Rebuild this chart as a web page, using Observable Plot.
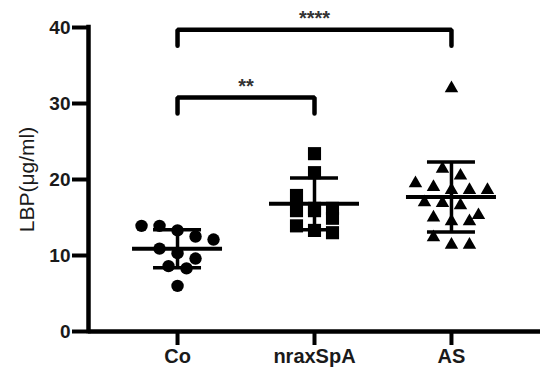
<!DOCTYPE html>
<html>
<head>
<meta charset="utf-8">
<script src="https://cdn.jsdelivr.net/npm/d3@7"></script>
<script src="https://cdn.jsdelivr.net/npm/@observablehq/plot@0.6"></script>
<style>
  html, body { margin: 0; padding: 0; background: #fff; }
  #chart { width: 542px; height: 370px; }
</style>
</head>
<body>
<div id="chart"></div>
<script>
// ---- data ----
const groups = ["Co", "nraxSpA", "AS"];
const coValues    = [13.9, 13.9, 13.3, 12.5, 12.1, 10.9, 10.3, 9.6, 8.6, 8.3, 6.0];
const nraxValues  = [23.4, 20.9, 17.9, 16.2, 16.2, 15.9, 15.9, 14.9, 13.9, 13.3, 13.0];
const asValues    = [32.0, 21.4, 20.5, 19.5, 19.0, 18.6, 18.6, 18.6, 17.0, 16.9, 16.6, 15.3, 15.0, 14.5, 14.5, 12.4, 11.4, 11.4];
const groupMeans  = [10.9, 16.8, 17.7];
const groupSDs    = [2.5, 3.4, 4.6];
const yTicks      = [0, 10, 20, 30, 40];
const compareFrom   = [0, 0];
const compareTo     = [2, 1];
const compareLevel  = [39.7, 30.8];
const compareLabels = ["****", "**"];
const yLabel = "LBP(\u03BCg/ml)";

// ---- layout ----
const W = 542, H = 370, mL = 88, mR = 2, mT = 27, mB = 39;
const xDomain = [-0.65, 2.65];
const pxPerUnit = (W - mL - mR) / (xDomain[1] - xDomain[0]);
const spacingPx = 18;      // horizontal spacing of symbols within a row
const rowSpan = 1.85;      // values within this span share a row
const font = "Liberation Sans, Arial, sans-serif";

// simple row-based scatter layout (like GraphPad Prism)
function layout(values, gi) {
  const sorted = values.slice().sort((a, b) => b - a);
  const rows = [];
  let cur = [];
  for (const v of sorted) {
    if (cur.length && cur[0] - v >= rowSpan) { rows.push(cur); cur = []; }
    cur.push(v);
  }
  if (cur.length) rows.push(cur);
  const out = [];
  for (const row of rows) {
    const n = row.length;
    row.forEach((v, k) => {
      const off = (k - (n - 1) / 2) * spacingPx / pxPerUnit;
      out.push({g: gi, x: gi + off, y: v});
    });
  }
  return out;
}
const pts = [coValues, nraxValues, asValues].map((vals, i) => layout(vals, i));

const stats = groups.map((g, i) => ({i, mean: groupMeans[i], lo: groupMeans[i] - groupSDs[i], hi: groupMeans[i] + groupSDs[i]}));
const meanHalf = 45 / pxPerUnit;
const capHalf = 24 / pxPerUnit;
const drop = 2.1;

const bracketPts = [];
compareFrom.forEach((f, k) => {
  const t = compareTo[k], L = compareLevel[k];
  bracketPts.push({k, x: f, y: L - drop}, {k, x: f, y: L}, {k, x: t, y: L}, {k, x: t, y: L - drop});
});
const bracketLabels = compareFrom.map((f, k) => ({x: (f + compareTo[k]) / 2, y: compareLevel[k], label: compareLabels[k]}));

const plot = Plot.plot({
  width: W, height: H,
  marginLeft: mL, marginRight: mR, marginTop: mT, marginBottom: mB,
  style: {fontFamily: font, background: "#fff", overflow: "visible"},
  x: {domain: xDomain, axis: null},
  y: {domain: [0, 40], axis: null},
  marks: [
    // axes
    Plot.axisY({ticks: yTicks, tickSize: 16, tickPadding: 2, strokeWidth: 4, fontSize: 19, fontWeight: "bold", fill: "#1a1a1a", label: null}),
    Plot.axisX({ticks: [0, 1, 2], tickFormat: i => groups[i], tickSize: 14, tickPadding: 3, strokeWidth: 4, fontSize: 20, fontWeight: "bold", fill: "#1a1a1a", label: null}),
    Plot.ruleX([xDomain[0]], {y1: 0, y2: 40, strokeWidth: 4.5, stroke: "#000", strokeLinecap: "square"}),
    Plot.ruleY([0], {strokeWidth: 4.5, stroke: "#000"}),
    Plot.text([yLabel], {frameAnchor: "left", rotate: -90, dx: -61, fontSize: 21, fill: "#1a1a1a", textAnchor: "middle"}),
    // points
    Plot.dot(pts[0], {x: "x", y: "y", symbol: "circle", r: 6.2, fill: "#000"}),
    Plot.dot(pts[1], {x: "x", y: "y", symbol: "square", r: 7.4, fill: "#000"}),
    Plot.dot(pts[2], {x: "x", y: "y", symbol: "triangle", r: 5, fill: "#000"}),
    // mean and SD
    Plot.ruleY(stats, {y: "mean", x1: d => d.i - meanHalf, x2: d => d.i + meanHalf, strokeWidth: 4, stroke: "#000"}),
    Plot.ruleX(stats, {x: "i", y1: "lo", y2: "hi", strokeWidth: 3.5, stroke: "#000"}),
    Plot.ruleY(stats, {y: "hi", x1: d => d.i - capHalf, x2: d => d.i + capHalf, strokeWidth: 3.5, stroke: "#000"}),
    Plot.ruleY(stats, {y: "lo", x1: d => d.i - capHalf, x2: d => d.i + capHalf, strokeWidth: 3.5, stroke: "#000"}),
    // significance brackets
    Plot.line(bracketPts, {x: "x", y: "y", z: "k", stroke: "#000", strokeWidth: 4.5, strokeLinejoin: "miter", strokeLinecap: "round"}),
    Plot.text(bracketLabels, {x: "x", y: "y", text: "label", dy: -11, fontSize: 20, fontWeight: "bold", fill: "#333"})
  ]
});
document.getElementById("chart").appendChild(plot);
</script>
</body>
</html>
